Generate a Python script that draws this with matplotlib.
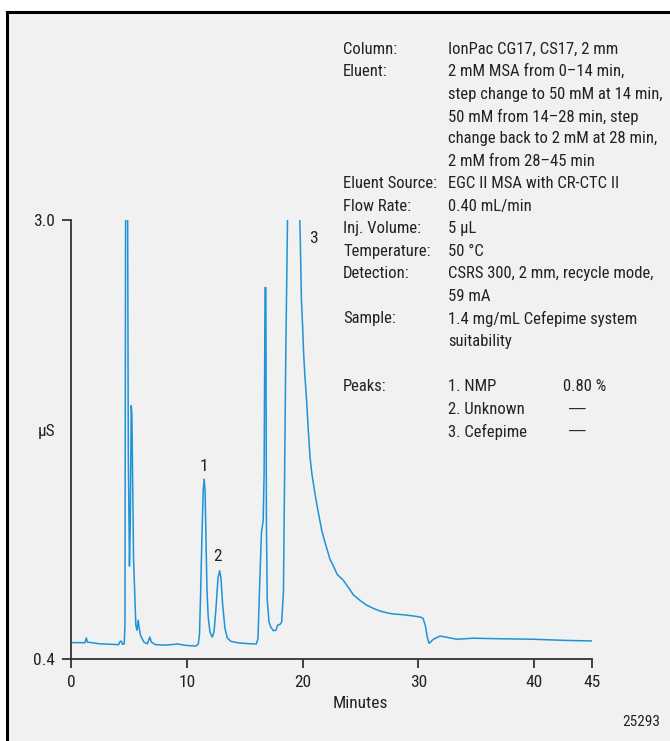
import matplotlib
matplotlib.use("Agg")
import matplotlib.pyplot as plt
from matplotlib import font_manager
from matplotlib.lines import Line2D
from matplotlib.patches import Rectangle

names = {f.name for f in font_manager.fontManager.ttflist}
FONT = "Liberation Sans"
for cand in ["Roboto Condensed", "Archivo Narrow", "PT Sans Narrow", "Liberation Sans Narrow",
             "Encode Sans Condensed"]:
    if cand in names:
        FONT = cand
        break
plt.rcParams['font.family'] = [FONT, 'DejaVu Sans']

# ---- data ----
time_min = [0.0, 0.8, 1.2, 1.32, 1.42, 2.5, 3.5, 4.1, 4.25, 4.35, 4.45, 4.6, 4.66, 4.72,
            4.88, 4.95, 5.05, 5.12, 5.2, 5.26, 5.4, 5.6, 5.7, 5.8, 5.9, 6.0, 6.3, 6.6,
            6.8, 6.95, 7.3, 8.0, 9.0, 9.2, 9.5, 10.0, 10.8, 11.0, 11.1, 11.2, 11.3, 11.42,
            11.5, 11.58, 11.66, 11.75, 11.85, 12.0, 12.2, 12.35, 12.5, 12.7, 12.84, 12.95,
            13.1, 13.3, 13.5, 13.8, 14.5, 15.5, 16.0, 16.15, 16.3, 16.45, 16.6, 16.68,
            16.76, 16.83, 16.88, 16.95, 17.1, 17.25, 17.47, 17.7, 17.85, 18.05, 18.2,
            18.35, 18.45, 18.55, 18.7, 18.75, 19.65, 19.8, 19.9, 20.0, 20.1, 20.2, 20.35,
            20.5, 20.64, 20.8, 21.07, 21.3, 21.65, 21.9, 22.37, 22.6, 23.0, 23.5, 24.0,
            24.4, 25.0, 25.5, 26.1, 26.7, 27.3, 27.8, 28.7, 29.56, 30.2, 30.4, 30.6, 30.8,
            30.94, 31.3, 31.87, 32.45, 33.3, 34.74, 37.0, 39.9, 42.8, 44.96]
signal_uS = [0.497, 0.497, 0.496, 0.525, 0.50, 0.49, 0.487, 0.485, 0.505, 0.505, 0.487, 0.49,
             0.6, 3.3, 3.3, 1.6, 0.95, 1.2, 1.9, 1.85, 1.0, 0.6, 0.57, 0.63, 0.58, 0.54,
             0.50, 0.49, 0.53, 0.50, 0.485, 0.482, 0.487, 0.49, 0.485, 0.48, 0.477, 0.49,
             0.55, 0.8, 1.1, 1.40, 1.465, 1.40, 1.1, 0.8, 0.65, 0.56, 0.53, 0.56, 0.68,
             0.88, 0.923, 0.88, 0.72, 0.58, 0.525, 0.505, 0.495, 0.49, 0.489, 0.52, 0.85,
             1.15, 1.22, 1.5, 2.6, 2.6, 1.2, 0.75, 0.62, 0.59, 0.568, 0.57, 0.60, 0.605,
             0.62, 0.8, 1.5, 2.2, 3.0, 3.3, 3.3, 2.9, 2.53, 2.38, 2.2, 2.08, 1.93,
             1.75, 1.60, 1.5, 1.38, 1.29, 1.164, 1.1, 0.99, 0.96, 0.9, 0.868, 0.82,
             0.779, 0.745, 0.72, 0.70, 0.684, 0.673, 0.667, 0.662, 0.655, 0.648, 0.641, 0.60,
             0.52, 0.493, 0.517, 0.536, 0.529, 0.517, 0.523, 0.52, 0.517, 0.51, 0.507]

peak_labels = ["1", "2", "3"]
peak_label_pos = [(11.49, 1.54), (12.69, 1.01), (20.9, 2.89)]

x_ticks = [0, 10, 20, 30, 40, 45]
y_ticks = [0.4, 3.0]
y_ticklabels = ["0.4", "3.0"]

info_labels = ["Column:", "Eluent:", "", "", "", "", "Eluent Source:", "Flow Rate:",
               "Inj. Volume:", "Temperature:", "Detection:", "", "Sample:", "", "",
               "Peaks:", "", ""]
info_values = ["IonPac CG17, CS17, 2 mm", "2 mM MSA from 0\u201314 min,",
               "step change to 50 mM at 14 min,", "50 mM from 14\u201328 min, step",
               "change back to 2 mM at 28 min,", "2 mM from 28\u201345 min",
               "EGC II MSA with CR-CTC II", "0.40 mL/min", "5 \u00b5L", "50 \u00b0C",
               "CSRS 300, 2 mm, recycle mode,", "59 mA", "1.4 mg/mL Cefepime system",
               "suitability", "", "1. NMP", "2. Unknown", "3. Cefepime"]
peak_amounts = ["0.80 %", "\u2014", "\u2014"]

FS = 12.5
FS_INFO = 12
TC = "#222222"

# ---- figure ----
W, H = 670, 741
fig = plt.figure(figsize=(W / 100, H / 100), dpi=100)
fig.patch.set_facecolor("white")
fig.patches.append(Rectangle((7 / W, 0), 1, (H - 12) / H, transform=fig.transFigure,
                             facecolor="#f1f1f1", edgecolor="none", zorder=-10))
fig.lines.append(Line2D([7 / W, 7 / W], [0, (H - 12) / H], transform=fig.transFigure,
                        color="black", lw=2.2))
fig.lines.append(Line2D([7 / W, 1], [(H - 12) / H, (H - 12) / H], transform=fig.transFigure,
                        color="black", lw=2.2))

ax = fig.add_axes([71 / W, (H - 659) / H, 521 / W, 439 / H])
ax.patch.set_alpha(0)
ax.plot(time_min, signal_uS, color="#1f92d8", lw=1.1, solid_joinstyle="round")
ax.set_xlim(0, 45)
ax.set_ylim(0.4, 3.0)
for s in ["top", "right"]:
    ax.spines[s].set_visible(False)
for s in ["left", "bottom"]:
    ax.spines[s].set_color("#333333")
    ax.spines[s].set_linewidth(1.3)
ax.set_xticks(x_ticks)
ax.set_xticklabels([str(v) for v in x_ticks])
ax.set_yticks(y_ticks)
ax.set_yticklabels(y_ticklabels)
ax.tick_params(axis="both", direction="out", length=6.5, width=1.3, color="#333333",
               labelsize=FS, labelcolor=TC, pad=5)

for lab, (tx, ty) in zip(peak_labels, peak_label_pos):
    ax.text(tx, ty, lab, ha="center", va="center", fontsize=FS, color=TC)

ax.text((360 - 71) / 521, -(703 - 659) / 439, "Minutes", transform=ax.transAxes,
        ha="center", va="center", fontsize=FS, color=TC)
fig.text(47 / W, 1 - 432 / H, "\u00b5S", ha="center", va="center", fontsize=FS, color=TC)
fig.text(660 / W, 1 - 722 / H, "25293", ha="right", va="center", fontsize=11, color=TC)

y0, dy = 49, 22.5
for i, (lab, val) in enumerate(zip(info_labels, info_values)):
    y = 1 - (y0 + i * dy) / H
    if lab:
        fig.text(343 / W, y, lab, ha="left", va="center", fontsize=FS_INFO, color=TC)
    if val:
        fig.text(448 / W, y, val, ha="left", va="center", fontsize=FS_INFO, color=TC)
for k, amt in enumerate(peak_amounts):
    y = 1 - (y0 + (15 + k) * dy) / H
    if amt == "0.80 %":
        fig.text(563 / W, y, amt, ha="left", va="center", fontsize=FS_INFO, color=TC)
    else:
        fig.text(577.5 / W, y, amt, ha="center", va="center", fontsize=FS_INFO, color=TC,
                 family=["Liberation Sans", "DejaVu Sans"])

fig.savefig("out.png", dpi=100, facecolor=fig.get_facecolor())
